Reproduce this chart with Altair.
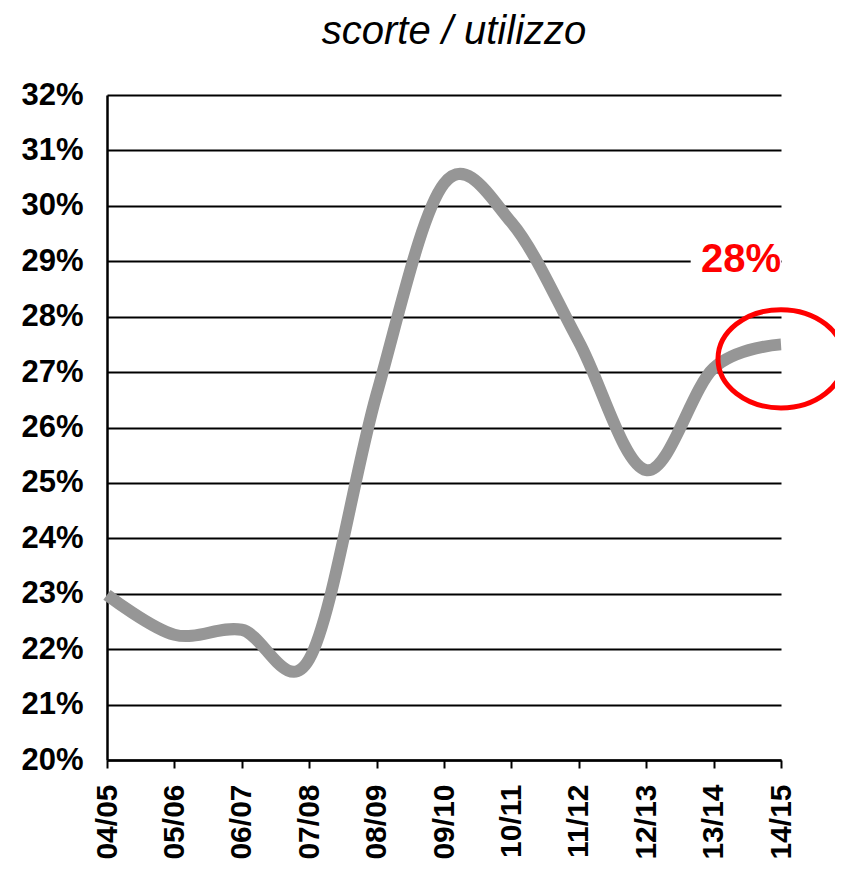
import altair as alt
import pandas as pd

# ---- data ----
categories = ["04/05", "05/06", "06/07", "07/08", "08/09", "09/10",
              "10/11", "11/12", "12/13", "13/14", "14/15"]
values = [0.2298, 0.2226, 0.2235, 0.2182, 0.2660, 0.3040,
          0.2970, 0.2755, 0.2523, 0.2707, 0.2750]
y_ticks = [round(0.20 + 0.01 * i, 2) for i in range(13)]

title_text = "scorte / utilizzo"
note_text = ["28%"]
note_y = [0.29]
ellipse_y = [0.2724]

# ---- tables ----
idx = list(range(len(categories)))
line_df = pd.DataFrame({"i": idx, "cat": categories, "v": values})
last = idx[-1]
note_df = pd.DataFrame({"i": [last], "v": note_y, "t": note_text})
mask_df = pd.DataFrame({"i": [8.66], "i2": [last], "v": [0.2877], "v2": [0.2923]})
ell_df = pd.DataFrame({"i": [last], "v": ellipse_y})

FONT = "Liberation Sans"
label_expr = "[" + ",".join("'%s'" % c for c in categories) + "][datum.value]"

x_scale = alt.Scale(domain=[0, last], nice=False, zero=False)
y_scale = alt.Scale(domain=[0.20, 0.32], nice=False, zero=False)

x_axis = alt.Axis(
    values=idx, labelExpr=label_expr, labelAngle=270, labelAlign="right",
    labelBaseline="middle", labelFont=FONT, labelFontSize=30,
    labelFontWeight="bold", labelColor="black", labelPadding=16,
    tickSize=8, tickColor="black", tickWidth=2,
    domainColor="black", domainWidth=2.5, grid=False, title=None,
    labelFlush=False, labelOverlap=False,
)
y_axis = alt.Axis(
    values=y_ticks, format=".0%", labelFont=FONT, labelFontSize=31,
    labelFontWeight="bold", labelColor="black", labelPadding=24,
    ticks=False, grid=True, gridColor="black", gridWidth=2, gridOpacity=1,
    domainColor="black", domainWidth=2.5, title=None,
    labelOverlap=False, labelFlush=False,
)

line = alt.Chart(line_df).mark_line(
    interpolate="cardinal", color="#969696", strokeWidth=12, strokeCap="butt"
).encode(
    x=alt.X("i:Q", scale=x_scale, axis=x_axis),
    y=alt.Y("v:Q", scale=y_scale, axis=y_axis),
)

mask = alt.Chart(mask_df).mark_rect(color="white").encode(
    x="i:Q", x2="i2:Q", y="v:Q", y2="v2:Q"
)

note = alt.Chart(note_df).mark_text(
    align="right", baseline="middle", font=FONT, fontSize=40,
    fontWeight="bold", color="#ff0000", dy=-1
).encode(x="i:Q", y="v:Q", text="t:N")

ellipse = alt.Chart(ell_df).mark_point(
    shape="M-1,0 A1,0.78 0 1,1 1,0 A1,0.78 0 1,1 -1,0 Z",
    size=126 * 126, filled=False, stroke="#ff0000", strokeWidth=5, opacity=1,
).encode(x="i:Q", y="v:Q")

chart = alt.layer(mask, line, note, ellipse).properties(
    width=674, height=665,
    title=alt.TitleParams(
        title_text, font=FONT, fontSize=40, fontStyle="italic",
        fontWeight="normal", color="black", anchor="middle", dx=10, dy=15,
        baseline="alphabetic", frame="group", offset=10,
    ),
    autosize=alt.AutoSizeParams(type="none"),
    padding={"left": 99, "top": 87, "right": 54, "bottom": 106},
).configure(background="white").configure_view(stroke=None, strokeWidth=0)

chart.save("out.html", embed_options={"renderer": "svg", "actions": False})
